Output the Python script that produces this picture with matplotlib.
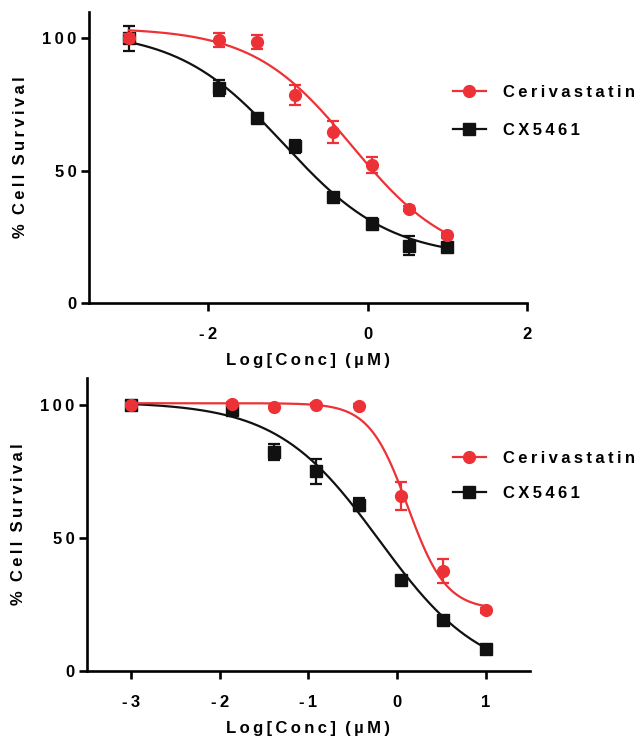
import numpy as np
import matplotlib
matplotlib.use("Agg")
import matplotlib.pyplot as plt

# ---------------- data ----------------
log_conc = [-3.0, -1.86, -1.39, -0.91, -0.43, 0.05, 0.52, 1.0]

# Panel A
a_ceri = [100.0, 99.4, 98.6, 78.6, 64.5, 52.0, 35.6, 25.6]
a_ceri_err = [1.5, 2.5, 2.5, 3.8, 4.2, 3.0, 1.0, 1.0]
a_cx = [100.0, 81.3, 70.0, 59.2, 40.0, 30.0, 21.6, 21.0]
a_cx_err = [4.6, 3.0, 1.0, 2.5, 1.0, 2.0, 3.6, 1.0]
# 4PL fit parameters (top, bottom, logIC50, hill)
a_ceri_fit = (104.0, 15.0, -0.2, 0.7)
a_cx_fit = (103.0, 17.0, -1.05, 0.65)

# Panel B
b_ceri = [100.0, 100.3, 99.1, 100.0, 99.6, 65.8, 37.7, 22.7]
b_ceri_err = [0.5, 0.5, 0.5, 0.5, 0.5, 5.3, 4.5, 1.0]
b_cx = [100.0, 97.9, 82.2, 74.9, 62.4, 34.0, 19.2, 8.3]
b_cx_err = [0.5, 1.5, 3.0, 4.7, 2.5, 1.0, 1.0, 1.0]
b_ceri_fit = (100.5, 23.0, 0.12, 2.0)
b_cx_fit = (101.0, -3.0, -0.2, 0.75)

series_names = ["Cerivastatin", "CX5461"]
a_xticks = [-2, 0, 2]
a_xticklabels = ["-2", "0", "2"]
b_xticks = [-3, -2, -1, 0, 1]
b_xticklabels = ["-3", "-2", "-1", "0", "1"]
yticks = [0, 50, 100]

RED = "#EC3237"
BLACK = "#111111"
FONT = "Liberation Sans"


def sp(s):
    return "\u2009".join(s)


def fourpl(x, p):
    top, bottom, ic, h = p
    return bottom + (top - bottom) / (1 + 10 ** ((x - ic) * h))


fig = plt.figure(figsize=(6.4, 7.41), dpi=100)
axA = fig.add_axes([0.139, 0.591, 0.684, 0.393])
axB = fig.add_axes([0.136, 0.0945, 0.692, 0.3955])

panels = [
    (axA, a_ceri, a_ceri_err, a_ceri_fit, a_cx, a_cx_err, a_cx_fit,
     (-3.5, 2.0), a_xticks, a_xticklabels, (0.708, 0.8495), 1.4),
    (axB, b_ceri, b_ceri_err, b_ceri_fit, b_cx, b_cx_err, b_cx_fit,
     (-3.5, 1.5), b_xticks, b_xticklabels, (0.708, 0.3576), 1.18),
]

for (ax, ce, cee, cef, cx, cxe, cxf, xlim, xt, xtl, legpos, lsp) in panels:
    xs = np.linspace(log_conc[0], log_conc[-1], 300)
    # CX5461
    ax.plot(xs, fourpl(xs, cxf), color=BLACK, lw=1.6, zorder=2)
    ax.errorbar(log_conc, cx, yerr=cxe, fmt="s", color=BLACK, ms=8.5,
                capsize=4, elinewidth=1.6, capthick=1.6, zorder=3)
    # Cerivastatin
    ax.plot(xs, fourpl(xs, cef), color=RED, lw=1.6, zorder=4)
    ax.errorbar(log_conc, ce, yerr=cee, fmt="o", color=RED, ms=8.5,
                capsize=4, elinewidth=1.6, capthick=1.6, zorder=5)

    # legend handles
    h1, = ax.plot([], [], color=RED, lw=1.6, marker="o", ms=8.5)
    h2, = ax.plot([], [], color=BLACK, lw=1.6, marker="s", ms=8.5)
    ax.legend([h1, h2], [sp(n) for n in series_names],
              loc="center left", bbox_to_anchor=legpos,
              bbox_transform=fig.transFigure, frameon=False,
              borderpad=0, borderaxespad=0,
              handlelength=1.95, handletextpad=1.05, labelspacing=lsp,
              prop={"family": FONT, "weight": "bold", "size": 12})

    ax.set_xlim(*xlim)
    ax.set_ylim(0, 110)
    ax.set_xticks(xt)
    ax.set_xticklabels([sp(t) for t in xtl])
    ax.set_yticks(yticks)
    ax.set_yticklabels([sp(str(t)) for t in yticks])
    for lab in ax.get_xticklabels() + ax.get_yticklabels():
        lab.set_family(FONT)
        lab.set_weight("bold")
        lab.set_fontsize(12)
    ax.spines["top"].set_visible(False)
    ax.spines["right"].set_visible(False)
    ax.spines["left"].set_linewidth(1.9)
    ax.spines["bottom"].set_linewidth(1.9)
    ax.tick_params(axis="both", length=6, width=1.9, pad=3, direction="out")
    ax.tick_params(axis="x", pad=11)
    ax.set_xlabel(sp("Log[Conc]") + "  " + sp("(\u00b5M)"), family=FONT,
                  weight="bold", fontsize=12, labelpad=8)
    ax.set_ylabel(sp("%") + "  " + sp("Cell") + "  " + sp("Survival"),
                  family=FONT, weight="bold", fontsize=12, labelpad=10)

fig.savefig("out.png", dpi=100)
